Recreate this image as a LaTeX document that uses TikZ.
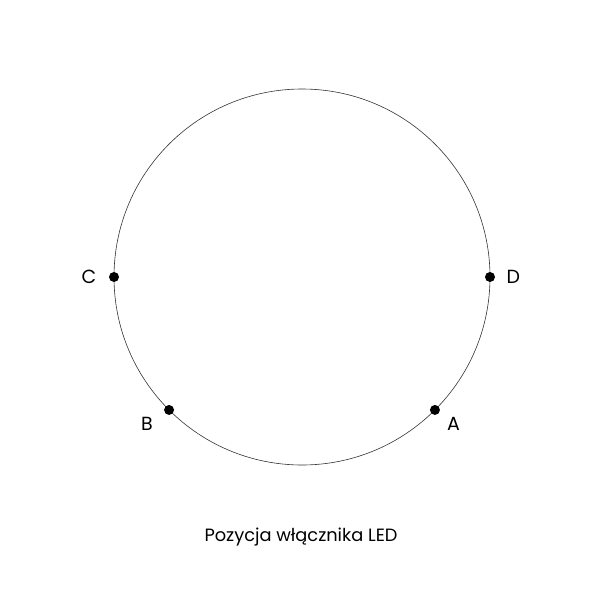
\documentclass[tikz,border=0pt]{standalone}
\usepackage{fontspec}
\setmainfont{Poppins}
\usetikzlibrary{positioning,calc}
\tikzset{
  ring/.style={draw=black!80, line width=0.6pt},
  switchdot/.style={circle, fill=black, inner sep=0pt, minimum size=10pt},
  poslabel/.style={font=\fontsize{19}{21}\selectfont},
}
\begin{document}
\begin{tikzpicture}[x=1pt,y=-1pt]
\useasboundingbox (0,0) rectangle (600,600);
\pgfmathsetmacro{\ringradius}{188}
\coordinate (centre) at (302,277);
\draw[ring] (centre) circle (\ringradius);
% positions on the ring
\foreach \name/\ang in {A/45,B/135,C/180,D/0}{%
  \node[switchdot] (dot\name) at ($(centre)+(\ang:\ringradius)$) {};
}
\node[poslabel, left=9pt of dotC] (labC) {C};
\node[poslabel, right=8pt of dotD] (labD) {D};
\node[poslabel, below left=0pt and 9pt of dotB] (labB) {B};
\node[poslabel, below right=0pt and 5pt of dotA] (labA) {A};
\node[font=\fontsize{17.8}{20}\selectfont] (caption) at (301,537) {Pozycja włącznika LED};
\end{tikzpicture}
\end{document}
